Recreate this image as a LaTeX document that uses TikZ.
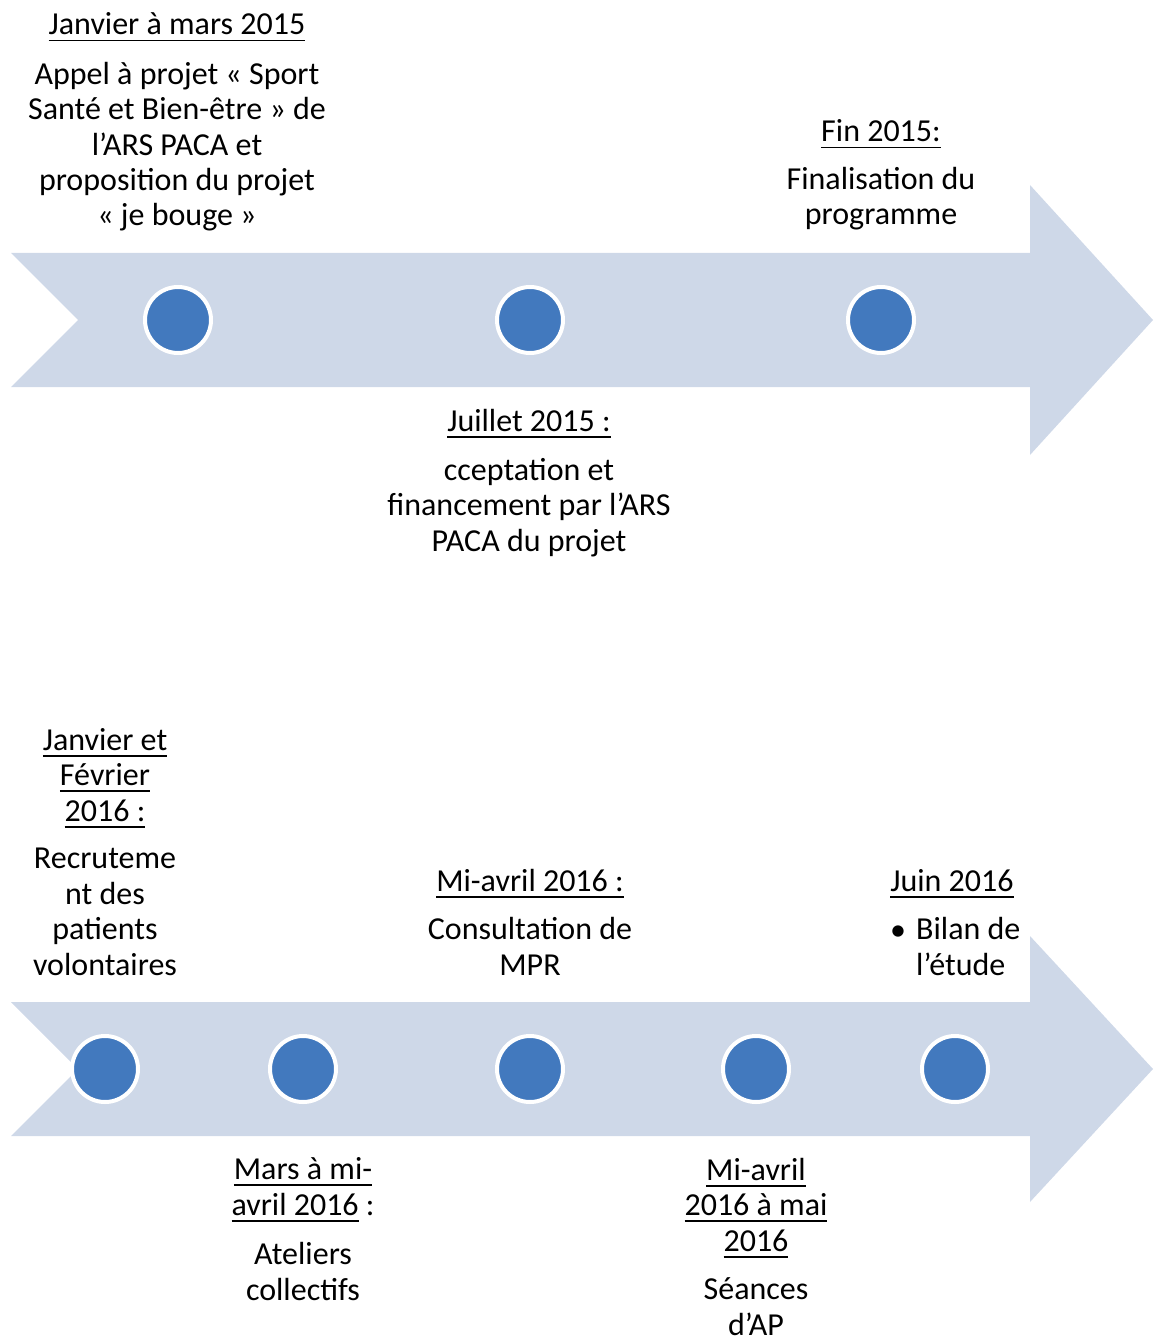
\documentclass[tikz,border=0pt]{standalone}
\usepackage{fontspec}
\setmainfont{Carlito}
\definecolor{band}{HTML}{CED8E8}
\definecolor{dot}{HTML}{4279BE}
\newcommand\myul[1]{\setbox0\hbox{#1}\rlap{\rule[-6.5pt]{\wd0}{1.8pt}}\box0}
\tikzset{
  txt/.style={align=center, inner sep=0pt, anchor=base, font=\fontsize{32}{35.4}\selectfont},
  txtl/.style={align=left, inner sep=0pt, anchor=base west, font=\fontsize{32}{35.4}\selectfont},
  dotnode/.style={circle, fill=dot, draw=white, line width=4pt, minimum size=66pt, inner sep=0pt},
  bandshape/.style={fill=band, draw=none}
}
\begin{document}
\begin{tikzpicture}[x=1pt,y=-1pt]
\useasboundingbox (0,0) rectangle (1153,1337);
% arrows
\fill[bandshape] (11,253) -- (1030,253) -- (1030,185) -- (1153,320) -- (1030,455) -- (1030,387) -- (11,387) -- (78,320) -- cycle;
\fill[bandshape] (11,1002) -- (1030,1002) -- (1030,936) -- (1153,1069) -- (1030,1202) -- (1030,1136) -- (11,1136) -- (78,1069) -- cycle;
% dots
\node[dotnode] (d1) at (178,320) {};
\node[dotnode] (d2) at (530,320) {};
\node[dotnode] (d3) at (881,320) {};
\node[dotnode] (e1) at (105,1069) {};
\node[dotnode] (e2) at (303,1069) {};
\node[dotnode] (e3) at (530,1069) {};
\node[dotnode] (e4) at (756,1069) {};
\node[dotnode] (e5) at (955,1069) {};
% texts top (anchor base = baseline of last line)
\node[txt] (t1) at (177,35) {\myul{Janvier à mars 2015}};
\node[txt] (b1) at (177,226) {Appel à projet « Sport\\Santé et Bien-être » de\\l’ARS PACA et\\proposition du projet\\« je bouge »};
\node[txt] (t3) at (881,142) {\myul{Fin 2015:}};
\node[txt] (b3) at (881,225) {Finalisation du\\programme};
\node[txt] (t2) at (529,431) {\myul{Juillet 2015 :}};
\node[txt] (b2) at (529,551) {cceptation et\\financement par l’ARS\\PACA du projet};
% texts bottom
\node[txt] (s1) at (105,821) {\myul{Janvier et}\\\myul{Février}\\\myul{2016 :}};
\node[txt] (c1) at (105,975) {Recruteme\\nt des\\patients\\volontaires};
\node[txt] (s3) at (530,891) {\myul{Mi-avril 2016 :}};
\node[txt] (c3) at (530,975) {Consultation de\\MPR};
\node[txt] (s5) at (952,891) {\myul{Juin 2016}};
\node[txt] (c5bul) at (898,940) {•};
\node[txtl] (c5) at (916,975) {Bilan de\\l’étude};
\node[txt] (s2) at (303,1215) {\myul{Mars à mi-}\\\myul{avril 2016}\ :};
\node[txt] (c2) at (303,1300) {Ateliers\\collectifs};
\node[txt] (s4) at (756,1251) {\myul{Mi-avril}\\\myul{2016 à mai}\\\myul{2016}};
\node[txt] (c4) at (756,1335) {Séances\\d'AP};
\end{tikzpicture}
\end{document}
